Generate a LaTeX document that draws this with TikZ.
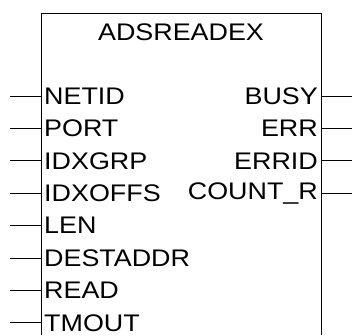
\documentclass[tikz,border=0pt]{standalone}
\usepackage{fontspec}
\setmainfont{Liberation Sans}[FakeStretch=1.12]
\usetikzlibrary{positioning}
\tikzset{
  every node/.style={font=\fontsize{24}{26}\selectfont},
  wire/.style={line width=1pt},
  fbox/.style={line width=1pt},
  pinL/.style={anchor=west, inner sep=0pt, xshift=3pt},
  pinR/.style={anchor=east, inner sep=0pt, xshift=-3pt},
}

\begin{document}
\begin{tikzpicture}[x=1pt, y=-1pt]
  \useasboundingbox[fill=white] (0,0) rectangle (352,335);
  % block outline (open at the bottom)
  \coordinate (bl) at (41,335);
  \coordinate (tl) at (41,13);
  \coordinate (tr) at (321,13);
  \coordinate (br) at (321,335);
  \draw[fbox] (bl) -- (tl) -- (tr) -- (br);
  \node (title) at (181,32) {ADSREADEX};
  % inputs
  \foreach \name [count=\i] in {NETID,PORT,IDXGRP,IDXOFFS,LEN,DESTADDR,READ,TMOUT} {
    \coordinate (inE\i) at (41,{96+32.4*(\i-1)});
    \coordinate (inF\i) at (10,{96+32.4*(\i-1)});
    \node[pinL] (in\i) at (inE\i) {\name};
    \draw[wire] (inF\i) -- (inE\i);
  }
  % outputs
  \foreach \name [count=\i] in {BUSY,ERR,ERRID,COUNT\_R} {
    \coordinate (outE\i) at (321,{96+32.4*(\i-1)});
    \coordinate (outF\i) at (352,{96+32.4*(\i-1)});
    \node[pinR] (out\i) at (outE\i) {\name};
    \draw[wire] (outE\i) -- (outF\i);
  }
\end{tikzpicture}
\end{document}
